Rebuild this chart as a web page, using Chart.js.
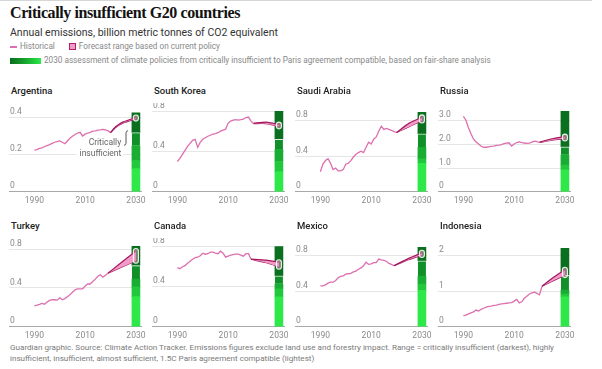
<!DOCTYPE html>
<html>
<head>
<meta charset="utf-8">
<script src="https://cdn.jsdelivr.net/npm/chart.js@4.4.0/dist/chart.umd.min.js"></script>
<style>
  body { margin: 0; width: 602px; height: 369px; background: #fff; position: relative; overflow: hidden; font-family: Roboto, 'Open Sans', sans-serif; }
  .topline { position: absolute; left: 0; top: 0; width: 592px; height: 1px; background: #d6d6d6; }
  h1 { position: absolute; left: 10px; top: 4px; margin: 0; font: bold 16px 'Liberation Serif', serif; color: #121212; letter-spacing: -0.4px; }
  .sub { position: absolute; left: 10px; top: 26px; font-size: 10.5px; color: #333; }
  .leg { position: absolute; left: 10px; font-size: 8.2px; color: #888; white-space: nowrap; }
  .leg i { display: inline-block; vertical-align: middle; margin-right: 3px; }
  .hline { width: 7px; height: 1.5px; background: #de6fae; }
  .fbox { width: 5px; height: 5px; background: #f29ac8; border: 1.5px solid #b0206a; margin-left: 14px; }
  .gbar { width: 31px; height: 6px; background: linear-gradient(to right, #0b6e1e, #17a62f, #2ee84a); }
  .ptitle { position: absolute; font-size: 9.5px; font-weight: 500; color: #222; }
  canvas { position: absolute; }
  .foot { position: absolute; left: 10px; top: 342px; width: 562px; font-size: 8.1px; line-height: 11px; color: #7a7a7a; }
</style>
</head>
<body>
<div class="topline"></div>
<h1>Critically insufficient G20 countries</h1>
<div class="sub">Annual emissions, billion metric tonnes of CO2 equivalent</div>
<div class="leg" style="top:41px"><i class="hline"></i>Historical<i class="fbox"></i>Forecast range based on current policy</div>
<div class="leg" style="top:55px"><i class="gbar"></i>2030 assessment of climate policies from critically insufficient to Paris agreement compatible, based on fair-share analysis</div>
<div class="foot">Guardian graphic. Source: Climate Action Tracker. Emissions figures exclude land use and forestry impact. Range = critically insufficient (darkest), highly insufficient, insufficient, almost sufficient, 1.5C Paris agreement compatible (lightest)</div>

<script>
// x axis
const xTicks = [1990, 2010, 2030];
const histStart = 1990;

// countries, in grid order
const countries = ['Argentina', 'South Korea', 'Saudi Arabia', 'Russia', 'Turkey', 'Canada', 'Mexico', 'Indonesia'];

// historical emissions, one value per year from 1990
const argHist = [0.225, 0.228, 0.235, 0.238, 0.245, 0.25, 0.255, 0.262, 0.268, 0.272, 0.275, 0.268, 0.26, 0.275, 0.29, 0.30, 0.31, 0.318, 0.322, 0.302, 0.312, 0.318, 0.322, 0.328, 0.33, 0.333, 0.335, 0.338, 0.335, 0.33, 0.32];
const korHist = [0.30, 0.33, 0.37, 0.41, 0.45, 0.48, 0.51, 0.52, 0.44, 0.49, 0.52, 0.535, 0.55, 0.56, 0.57, 0.575, 0.585, 0.60, 0.61, 0.62, 0.68, 0.70, 0.71, 0.715, 0.71, 0.715, 0.72, 0.735, 0.74, 0.70, 0.675];
const sauHist = [0.225, 0.31, 0.35, 0.37, 0.32, 0.25, 0.265, 0.235, 0.235, 0.25, 0.31, 0.32, 0.35, 0.39, 0.42, 0.44, 0.455, 0.44, 0.50, 0.555, 0.535, 0.59, 0.615, 0.68, 0.735, 0.70, 0.71, 0.70, 0.69, 0.675, 0.665];
const rusHist = [3.18, 3.02, 2.70, 2.45, 2.22, 2.10, 2.02, 1.92, 1.88, 1.88, 1.90, 1.92, 1.93, 1.96, 1.97, 1.99, 2.03, 2.05, 2.07, 1.93, 2.02, 2.08, 2.11, 2.08, 2.06, 2.04, 2.05, 2.10, 2.14, 2.12, 2.08];
const turHist = [0.215, 0.222, 0.23, 0.24, 0.232, 0.255, 0.272, 0.28, 0.278, 0.274, 0.298, 0.278, 0.29, 0.31, 0.33, 0.355, 0.38, 0.39, 0.39, 0.39, 0.42, 0.44, 0.44, 0.465, 0.49, 0.52, 0.535, 0.51, 0.53, 0.552];
const canHist = [0.59, 0.58, 0.60, 0.61, 0.635, 0.655, 0.675, 0.69, 0.695, 0.71, 0.735, 0.725, 0.73, 0.745, 0.745, 0.735, 0.73, 0.755, 0.735, 0.695, 0.705, 0.715, 0.72, 0.725, 0.725, 0.715, 0.705, 0.73, 0.73, 0.675];
const mexHist = [0.46, 0.46, 0.47, 0.49, 0.50, 0.50, 0.52, 0.55, 0.565, 0.57, 0.59, 0.595, 0.60, 0.615, 0.625, 0.645, 0.66, 0.685, 0.725, 0.70, 0.705, 0.72, 0.72, 0.76, 0.75, 0.745, 0.735, 0.71, 0.70, 0.685];
const indHist = [0.31, 0.33, 0.36, 0.39, 0.42, 0.47, 0.44, 0.49, 0.52, 0.55, 0.57, 0.58, 0.60, 0.61, 0.63, 0.64, 0.65, 0.66, 0.67, 0.68, 0.72, 0.77, 0.67, 0.70, 0.80, 0.86, 0.92, 0.95, 0.97, 0.94, 0.90, 1.14];

// forecast range (current policy): years, upper and lower edge
const argFcYears = [2020, 2022, 2025, 2030], argFcHigh = [0.32, 0.352, 0.378, 0.402], argFcLow = [0.32, 0.348, 0.372, 0.396];
const korFcYears = [2020, 2025, 2030], korFcHigh = [0.68, 0.69, 0.665], korFcLow = [0.675, 0.675, 0.648];
const sauFcYears = [2020, 2025, 2030], sauFcHigh = [0.665, 0.77, 0.835], sauFcLow = [0.665, 0.73, 0.80];
const rusFcYears = [2020, 2025, 2030], rusFcHigh = [2.10, 2.24, 2.33], rusFcLow = [2.08, 2.18, 2.25];
const turFcYears = [2019, 2030], turFcHigh = [0.552, 0.78], turFcLow = [0.552, 0.68];
const canFcYears = [2019, 2025, 2030], canFcHigh = [0.675, 0.665, 0.645], canFcLow = [0.675, 0.64, 0.60];
const mexFcYears = [2019, 2025, 2030], mexFcHigh = [0.685, 0.77, 0.83], mexFcLow = [0.685, 0.755, 0.805];
const indFcYears = [2021, 2025, 2030], indFcHigh = [1.14, 1.36, 1.60], indFcLow = [1.14, 1.28, 1.45];

// 2030 assessment bands, boundaries from 1.5C compatible (bottom) up to critically insufficient (top)
const argBands = [0, 0.125, 0.17, 0.25, 0.32, 0.427];
const korBands = [0, 0.2, 0.3, 0.42, 0.52, 0.8];
const sauBands = [0, 0.32, 0.37, 0.5, 0.65, 0.89];
const rusBands = [0, 0.93, 1.13, 1.56, 1.9, 3.42];
const turBands = [0, 0.31, 0.41, 0.49, 0.63, 0.83];
const canBands = [0, 0.30, 0.38, 0.43, 0.51, 0.8];
const mexBands = [0, 0.41, 0.48, 0.57, 0.74, 0.89];
const indBands = [0, 0.84, 0.92, 1.03, 1.44, 2.2];

// y axes
const argYTicks = [0, 0.2, 0.4], argYLabels = ['0', '0.2', '0.4'], argYMax = 0.437;
const korYTicks = [0, 0.4, 0.8], korYLabels = ['0', '0.4', '0.8'], korYMax = 0.8;
const sauYTicks = [0, 0.4, 0.8], sauYLabels = ['0', '0.4', '0.8'], sauYMax = 0.906;
const rusYTicks = [0, 1, 2, 3], rusYLabels = ['0', '1.0', '2.0', '3.0'], rusYMax = 3.41;
const turYTicks = [0, 0.4, 0.8], turYLabels = ['0', '0.4', '0.8'], turYMax = 0.831;
const canYTicks = [0, 0.4, 0.8], canYLabels = ['0', '0.4', '0.8'], canYMax = 0.807;
const mexYTicks = [0, 0.4, 0.8], mexYLabels = ['0', '0.4', '0.8'], mexYMax = 0.906;
const indYTicks = [0, 1, 2], indYLabels = ['0', '1', '2'], indYMax = 2.266;

const panels = [
  { hist: argHist, fcYears: argFcYears, fcHigh: argFcHigh, fcLow: argFcLow, bands: argBands, yTicks: argYTicks, yLabels: argYLabels, yMax: argYMax, note: true },
  { hist: korHist, fcYears: korFcYears, fcHigh: korFcHigh, fcLow: korFcLow, bands: korBands, yTicks: korYTicks, yLabels: korYLabels, yMax: korYMax },
  { hist: sauHist, fcYears: sauFcYears, fcHigh: sauFcHigh, fcLow: sauFcLow, bands: sauBands, yTicks: sauYTicks, yLabels: sauYLabels, yMax: sauYMax },
  { hist: rusHist, fcYears: rusFcYears, fcHigh: rusFcHigh, fcLow: rusFcLow, bands: rusBands, yTicks: rusYTicks, yLabels: rusYLabels, yMax: rusYMax },
  { hist: turHist, fcYears: turFcYears, fcHigh: turFcHigh, fcLow: turFcLow, bands: turBands, yTicks: turYTicks, yLabels: turYLabels, yMax: turYMax },
  { hist: canHist, fcYears: canFcYears, fcHigh: canFcHigh, fcLow: canFcLow, bands: canBands, yTicks: canYTicks, yLabels: canYLabels, yMax: canYMax },
  { hist: mexHist, fcYears: mexFcYears, fcHigh: mexFcHigh, fcLow: mexFcLow, bands: mexBands, yTicks: mexYTicks, yLabels: mexYLabels, yMax: mexYMax },
  { hist: indHist, fcYears: indFcYears, fcHigh: indFcHigh, fcLow: indFcLow, bands: indBands, yTicks: indYTicks, yLabels: indYLabels, yMax: indYMax },
];

const bandColors = ['#2ee84a', '#22c83c', '#19ad33', '#11902a', '#0a6f1f']; // lightest -> darkest
const colLeft = [7, 150, 293, 436];
const rowTop = [103, 238];

// small white ring at the 2030 end of the forecast
function endMarker(p) {
  return {
    id: 'endMarker',
    afterDatasetsDraw(chart) {
      const { ctx, scales: { x, y } } = chart;
      const n = p.fcYears.length - 1;
      const px = x.getPixelForValue(p.fcYears[n]);
      const yh = y.getPixelForValue(p.fcHigh[n]);
      const yl = y.getPixelForValue(p.fcLow[n]);
      ctx.save();
      ctx.beginPath();
      ctx.roundRect(px - 2.5, yh - 2.5, 5, yl - yh + 5, 2.5);
      ctx.fillStyle = 'rgba(242,154,200,0.5)';
      ctx.fill();
      ctx.lineWidth = 1.1;
      ctx.strokeStyle = 'rgba(255,255,255,0.9)';
      ctx.stroke();
      ctx.restore();
    }
  };
}

// "Critically insufficient" callout on the first panel, drawn under the lines
const noteLabel = {
  id: 'noteLabel',
  beforeDatasetsDraw(chart) {
    const { ctx, scales: { x, y } } = chart;
    const xr = x.getPixelForValue(2024.2);
    ctx.save();
    ctx.font = '8.5px Roboto, sans-serif';
    ctx.textAlign = 'right';
    ctx.textBaseline = 'middle';
    const y1 = y.getPixelForValue(0.262), y2 = y.getPixelForValue(0.204);
    const w = ctx.measureText('insufficient').width;
    ctx.fillStyle = '#fff';
    ctx.fillRect(xr - w - 3, y1 - 5, w + 5, y2 - y1 + 10);
    ctx.fillStyle = '#666';
    ctx.fillText('Critically', xr, y1);
    ctx.fillText('insufficient', xr, y2);
    const bx = x.getPixelForValue(2026.1);
    const top = y.getPixelForValue(0.33), bot = y.getPixelForValue(0.252);
    ctx.beginPath();
    ctx.moveTo(bx + 2, top);
    ctx.quadraticCurveTo(bx, top, bx, top + 2);
    ctx.lineTo(bx, bot - 2);
    ctx.quadraticCurveTo(bx, bot, bx - 2, bot);
    ctx.strokeStyle = '#555';
    ctx.lineWidth = 1;
    ctx.stroke();
    ctx.restore();
  }
};

document.addEventListener('DOMContentLoaded', () => {
  panels.forEach((p, i) => {
    const left = colLeft[i % 4], top = rowTop[Math.floor(i / 4)];

    const t = document.createElement('div');
    t.className = 'ptitle';
    t.style.left = (left + 4) + 'px';
    t.style.top = (top - 18) + 'px';
    t.textContent = countries[i];
    document.body.appendChild(t);

    const cv = document.createElement('canvas');
    cv.width = 144; cv.height = 107;
    cv.style.left = left + 'px';
    cv.style.top = top + 'px';
    document.body.appendChild(cv);

    const bandSets = bandColors.map((c, k) => ({
      type: 'bar',
      data: [{ x: 2030, y: [p.bands[k], p.bands[k + 1]] }],
      backgroundColor: c,
      borderColor: 'rgba(255,255,255,0.75)',
      borderWidth: k === 3 ? { top: 1 } : 0,
      borderSkipped: false,
      barThickness: 8,
      grouped: false,
      order: 10,
    }));

    new Chart(cv, {
      type: 'line',
      data: {
        datasets: [
          { data: p.fcYears.map((yr, k) => ({ x: yr, y: p.fcHigh[k] })), borderColor: '#a3195e', borderWidth: 1.2, backgroundColor: '#f29ac8', fill: '+1', pointRadius: 0, tension: 0.2 },
          { data: p.fcYears.map((yr, k) => ({ x: yr, y: p.fcLow[k] })), borderColor: '#a3195e', borderWidth: 1.2, fill: false, pointRadius: 0, tension: 0.2 },
          { data: p.hist.map((v, k) => ({ x: histStart + k, y: v })), borderColor: '#dd6fae', borderWidth: 1.3, fill: false, pointRadius: 0, tension: 0 },
          ...bandSets,
        ],
      },
      options: {
        responsive: false, animation: false,
        layout: { padding: { top: 8, right: 10, bottom: 0, left: 0 } },
        plugins: { legend: { display: false }, tooltip: { enabled: false } },
        scales: {
          x: {
            type: 'linear', min: 1980, max: 2032, offset: false,
            grid: { display: false, drawTicks: false, offset: false },
            border: { display: true, color: '#a8a8a8', width: 1 },
            afterBuildTicks: (ax) => { ax.ticks = xTicks.map(v => ({ value: v })); },
            ticks: { color: '#8a8a8a', font: { size: 8.5, family: 'Roboto' }, padding: 4, maxRotation: 0, autoSkip: false, callback: (v) => String(v) },
          },
          y: {
            min: 0, max: p.yMax,
            grid: { color: (c) => c.tick && c.tick.value === 0 ? 'rgba(0,0,0,0)' : '#e6e6e6', drawTicks: false },
            border: { display: false },
            afterBuildTicks: (ax) => { ax.ticks = p.yTicks.map(v => ({ value: v })); },
            ticks: { mirror: true, padding: 1, labelOffset: -5.5, color: '#8a8a8a', font: { size: 8.5, family: 'Roboto' }, callback: (v, k) => p.yLabels[k] },
          },
        },
      },
      plugins: p.note ? [endMarker(p), noteLabel] : [endMarker(p)],
    });
  });
});
</script>
</body>
</html>
